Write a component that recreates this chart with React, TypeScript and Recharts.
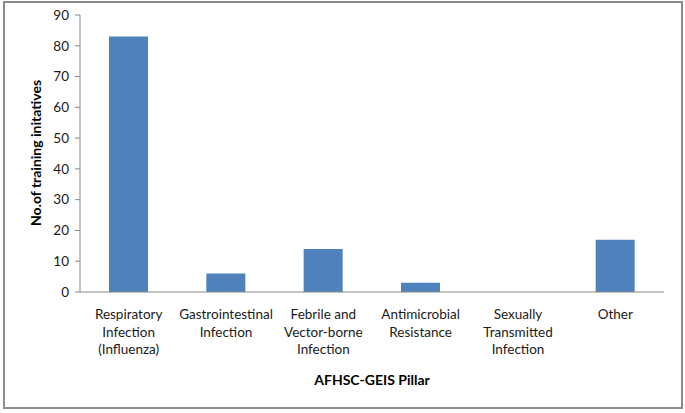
import { Bar, BarChart, XAxis, YAxis } from "recharts";

const pillars = [
	"Respiratory Infection (Influenza)",
	"Gastrointestinal Infection",
	"Febrile and Vector-borne Infection",
	"Antimicrobial Resistance",
	"Sexually Transmitted Infection",
	"Other",
];

const pillarLines = [
	["Respiratory", "Infection", "(Influenza)"],
	["Gastrointestinal", "Infection"],
	["Febrile and", "Vector-borne", "Infection"],
	["Antimicrobial", "Resistance"],
	["Sexually", "Transmitted", "Infection"],
	["Other"],
];

const initiatives = [83, 6, 14, 3, 0, 17];

const yTicks = [0, 10, 20, 30, 40, 50, 60, 70, 80, 90];

const data = pillars.map((name, i) => ({
	name,
	lines: pillarLines[i],
	value: initiatives[i],
}));

const FONT = "Lato, 'Open Sans', sans-serif";

function PillarTick({
	x,
	y,
	index,
}: {
	x?: number;
	y?: number;
	index?: number;
}) {
	const lines = pillarLines[index ?? 0] ?? [];
	return (
		<text
			x={x}
			y={(y ?? 0) + 19}
			textAnchor="middle"
			fill="#1a1a1a"
			fontSize={13.5}
			fontFamily={FONT}>
			{lines.map((ln, i) => (
				<tspan key={i} x={x} dy={i === 0 ? 0 : 17.5}>
					{ln}
				</tspan>
			))}
		</text>
	);
}

export default function App() {
	return (
		<div
			style={{
				position: "absolute",
				left: 0,
				top: 0,
				width: 685,
				height: 413,
				background: "#fff",
			}}>
			<div
				style={{
					position: "absolute",
					left: 3,
					top: 1,
					width: 676,
					height: 404,
					border: "2px solid #8c8c8c",
				}}
			/>
			<BarChart
				width={685}
				height={413}
				data={data}
				margin={{ top: 15, right: 21, left: 0, bottom: 0 }}
				style={{ position: "absolute", left: 0, top: 0 }}>
				<XAxis
					dataKey="name"
					tick={<PillarTick />}
					tickLine={false}
					axisLine={{ stroke: "#868686" }}
					interval={0}
					height={121}
				/>
				<YAxis
					type="number"
					domain={[0, 90]}
					ticks={yTicks}
					interval={0}
					width={80}
					tickSize={5}
					tickMargin={6}
					tickLine={{ stroke: "#868686" }}
					axisLine={{ stroke: "#868686" }}
					tick={{ fill: "#1a1a1a", fontSize: 13.5, fontFamily: FONT }}
				/>
				<Bar
					dataKey="value"
					fill="#4f81bd"
					barSize={39}
					isAnimationActive={false}
				/>
				<text
					x={35}
					y={153}
					transform="rotate(-90 35 153)"
					textAnchor="middle"
					dominantBaseline="central"
					fontSize={14}
					fontWeight="bold"
					fontFamily={FONT}
					fill="#000">
					No.of training initatives
				</text>
				<text
					x={372}
					y={379}
					textAnchor="middle"
					dominantBaseline="central"
					fontSize={14}
					fontWeight="bold"
					fontFamily={FONT}
					fill="#000">
					AFHSC-GEIS Pillar
				</text>
			</BarChart>
		</div>
	);
}
